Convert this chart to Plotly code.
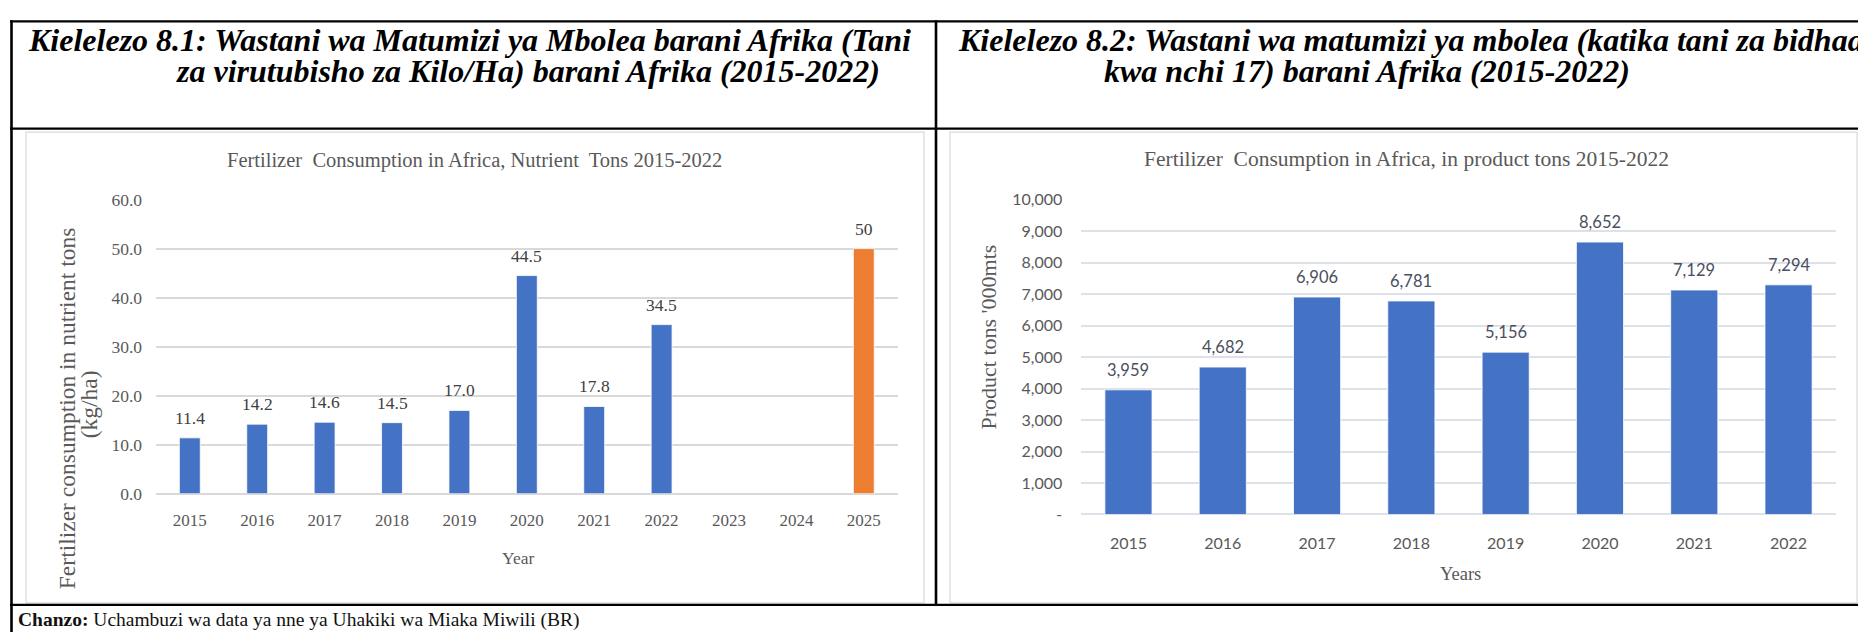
import plotly.graph_objects as go

W, H = 1858, 642

# ---------------- data ----------------
years_nutrient = ["2015", "2016", "2017", "2018", "2019", "2020", "2021", "2022", "2023", "2024", "2025"]
nutrient_kg_ha = [11.4, 14.2, 14.6, 14.5, 17.0, 44.5, 17.8, 34.5, None, None, 50]
nutrient_labels = ["11.4", "14.2", "14.6", "14.5", "17.0", "44.5", "17.8", "34.5", "", "", "50"]
target_year = "2025"

years_product = ["2015", "2016", "2017", "2018", "2019", "2020", "2021", "2022"]
product_000mt = [3959, 4682, 6906, 6781, 5156, 8652, 7129, 7294]
product_labels = ["3,959", "4,682", "6,906", "6,781", "5,156", "8,652", "7,129", "7,294"]

y1_ticks = [0, 10, 20, 30, 40, 50, 60]
y2_ticks = [0, 1000, 2000, 3000, 4000, 5000, 6000, 7000, 8000, 9000, 10000]
y2_ticktext = ["-", "1,000", "2,000", "3,000", "4,000", "5,000", "6,000", "7,000", "8,000", "9,000", "10,000"]

title_81 = ["Kielelezo 8.1: Wastani wa Matumizi ya Mbolea barani Afrika (Tani",
            "za virutubisho za Kilo/Ha) barani Afrika (2015-2022)"]
title_82 = ["Kielelezo 8.2: Wastani wa matumizi ya mbolea (katika tani za bidhaa",
            "kwa nchi 17) barani Afrika (2015-2022)"]
chart1_title = "Fertilizer  Consumption in Africa, Nutrient  Tons 2015-2022"
chart2_title = "Fertilizer  Consumption in Africa, in product tons 2015-2022"
y1_title = ["Fertilizer consumption in nutrient tons", "(kg/ha)"]
y2_title = "Product tons '000mts"
x1_title = "Year"
x2_title = "Years"
source_bold = "Chanzo:"
source_text = "Uchambuzi wa data ya nne ya Uhakiki wa Miaka Miwili (BR)"

# ---------------- styling ----------------
BLUE = "#4472C4"
ORANGE = "#ED7D31"
GREY_TXT = "#595959"
SERIF = "Liberation Serif, Times New Roman, serif"
SANS = "Lato, Carlito, Calibri, sans-serif"


def px(x):
    return x / W


def py(y):
    return 1 - y / H


colors1 = [ORANGE if yr == target_year else BLUE for yr in years_nutrient]

fig = go.Figure()
fig.add_trace(go.Bar(
    x=years_nutrient, y=nutrient_kg_ha, width=0.31,
    marker=dict(color=colors1, line=dict(color="#FFFFFF", width=0.8)),
    xaxis="x", yaxis="y", showlegend=False, hoverinfo="x+y",
))
fig.add_trace(go.Bar(
    x=years_product, y=product_000mt, width=0.5,
    marker=dict(color=BLUE, line=dict(color="#FFFFFF", width=0.8)),
    xaxis="x2", yaxis="y2", showlegend=False, hoverinfo="x+y",
))

annotations = []
# data labels (category axes: position by category index)
for i, (v, lab) in enumerate(zip(nutrient_kg_ha, nutrient_labels)):
    if v is None:
        continue
    annotations.append(dict(x=i, y=v, xref="x", yref="y", text=lab, showarrow=False,
                            yanchor="middle", yshift=20,
                            font=dict(family=SERIF, size=17.5, color="#404040")))
for i, (v, lab) in enumerate(zip(product_000mt, product_labels)):
    annotations.append(dict(x=i, y=v, xref="x2", yref="y2", text=lab, showarrow=False,
                            yanchor="middle", yshift=20,
                            font=dict(family=SANS, size=16.5, color="#4A5060")))

# panel titles (bold italic)
annotations += [
    dict(x=px(26), y=py(31), xref="paper", yref="paper", xanchor="left", yanchor="middle",
         text="<b><i>%s</i></b>" % title_81[0], showarrow=False,
         font=dict(family=SERIF, size=32, color="#000000")),
    dict(x=px(174), y=py(63), xref="paper", yref="paper", xanchor="left", yanchor="middle",
         text="<b><i>%s</i></b>" % title_81[1], showarrow=False,
         font=dict(family=SERIF, size=32, color="#000000")),
    dict(x=px(956), y=py(31), xref="paper", yref="paper", xanchor="left", yanchor="middle",
         text="<b><i>%s</i></b>" % title_82[0], showarrow=False,
         font=dict(family=SERIF, size=32, color="#000000")),
    dict(x=px(1102), y=py(63), xref="paper", yref="paper", xanchor="left", yanchor="middle",
         text="<b><i>%s</i></b>" % title_82[1], showarrow=False,
         font=dict(family=SERIF, size=32, color="#000000")),
]
# chart titles
annotations += [
    dict(x=px(475), y=py(155.5), xref="paper", yref="paper", xanchor="center", yanchor="middle",
         text=chart1_title, showarrow=False, font=dict(family=SERIF, size=20.5, color=GREY_TXT)),
    dict(x=px(1406), y=py(154), xref="paper", yref="paper", xanchor="center", yanchor="middle",
         text=chart2_title, showarrow=False, font=dict(family=SERIF, size=21.5, color=GREY_TXT)),
]
# axis titles
annotations += [
    dict(x=px(67), y=py(411), xref="paper", yref="paper", xanchor="center", yanchor="middle",
         text=y1_title[0], textangle=-90, showarrow=False,
         font=dict(family=SERIF, size=23.5, color=GREY_TXT)),
    dict(x=px(89), y=py(407), xref="paper", yref="paper", xanchor="center", yanchor="middle",
         text=y1_title[1], textangle=-90, showarrow=False,
         font=dict(family=SERIF, size=23.5, color=GREY_TXT)),
    dict(x=px(518), y=py(566), xref="paper", yref="paper", xanchor="center", yanchor="middle",
         text=x1_title, showarrow=False, font=dict(family=SERIF, size=17.5, color=GREY_TXT)),
    dict(x=px(989), y=py(337), xref="paper", yref="paper", xanchor="center", yanchor="middle",
         text=y2_title, textangle=-90, showarrow=False,
         font=dict(family=SERIF, size=22, color=GREY_TXT)),
    dict(x=px(1460), y=py(582), xref="paper", yref="paper", xanchor="center", yanchor="middle",
         text=x2_title, showarrow=False, font=dict(family=SERIF, size=18.5, color=GREY_TXT)),
]
# source line
annotations.append(dict(x=px(16), y=py(630), xref="paper", yref="paper", xanchor="left", yanchor="middle",
                        text="<b>%s</b> %s" % (source_bold, source_text), showarrow=False,
                        font=dict(family=SERIF, size=19.5, color="#111111")))

# table lines and chart boxes
K = "#000000"
shapes = [
    dict(type="line", xref="paper", yref="paper", x0=px(10), x1=px(1858), y0=py(11.7), y1=py(11.7),
         line=dict(color=K, width=2.2)),
    dict(type="line", xref="paper", yref="paper", x0=px(10), x1=px(1858), y0=py(122.5), y1=py(122.5),
         line=dict(color=K, width=2.2)),
    dict(type="line", xref="paper", yref="paper", x0=px(10), x1=px(1858), y0=py(614), y1=py(614),
         line=dict(color=K, width=2.2)),
    dict(type="line", xref="paper", yref="paper", x0=px(11.5), x1=px(11.5), y0=py(10.6), y1=py(642),
         line=dict(color=K, width=2.6)),
    dict(type="line", xref="paper", yref="paper", x0=px(936), x1=px(936), y0=py(10.6), y1=py(615),
         line=dict(color=K, width=2.6)),
    dict(type="rect", xref="paper", yref="paper", x0=px(26), x1=px(924), y0=py(612), y1=py(126),
         line=dict(color="#D9D9D9", width=1.2), layer="below"),
    dict(type="rect", xref="paper", yref="paper", x0=px(950), x1=px(1857), y0=py(612), y1=py(126),
         line=dict(color="#D9D9D9", width=1.2), layer="below"),
]

fig.update_layout(
    width=W, height=H, autosize=False,
    margin=dict(l=0, r=0, t=0, b=0, pad=0),
    paper_bgcolor="#FFFFFF", plot_bgcolor="#FFFFFF",
    showlegend=False,
    annotations=annotations, shapes=shapes,
    xaxis=dict(domain=[px(156.1), px(897.5)], anchor="y", type="category",
               categoryorder="array", categoryarray=years_nutrient, range=[-0.5, 10.5],
               showgrid=False, zeroline=False, showline=False, ticks="",
               ticklabelstandoff=14, tickfont=dict(family=SERIF, size=17, color=GREY_TXT)),
    yaxis=dict(domain=[py(499.3), py(195.7)], anchor="x", range=[0, 60],
               tickvals=y1_ticks, tickformat=".1f",
               showgrid=True, gridcolor="#D9D9D9", gridwidth=1.6,
               zeroline=True, zerolinecolor="#D9D9D9", zerolinewidth=1.6, showline=False, ticks="",
               ticklabelstandoff=13, tickfont=dict(family=SERIF, size=17.5, color=GREY_TXT)),
    xaxis2=dict(domain=[px(1081.3), px(1835.7)], anchor="y2", type="category",
                categoryorder="array", categoryarray=years_product, range=[-0.5, 7.5],
                showgrid=False, zeroline=False, showline=False, ticks="",
                ticklabelstandoff=18, tickfont=dict(family=SANS, size=16, color=GREY_TXT)),
    yaxis2=dict(domain=[py(520.7), py(195.7)], anchor="x2", range=[0, 10000],
                tickvals=y2_ticks, ticktext=y2_ticktext,
                showgrid=True, gridcolor="#DEE2E8", gridwidth=1.6,
                zeroline=True, zerolinecolor="#DEE2E8", zerolinewidth=1.6, showline=False, ticks="",
                ticklabelstandoff=18, tickfont=dict(family=SANS, size=16, color=GREY_TXT)),
)

fig.write_html("out.html", post_script="document.body.style.margin='0';document.body.style.overflow='hidden';")
